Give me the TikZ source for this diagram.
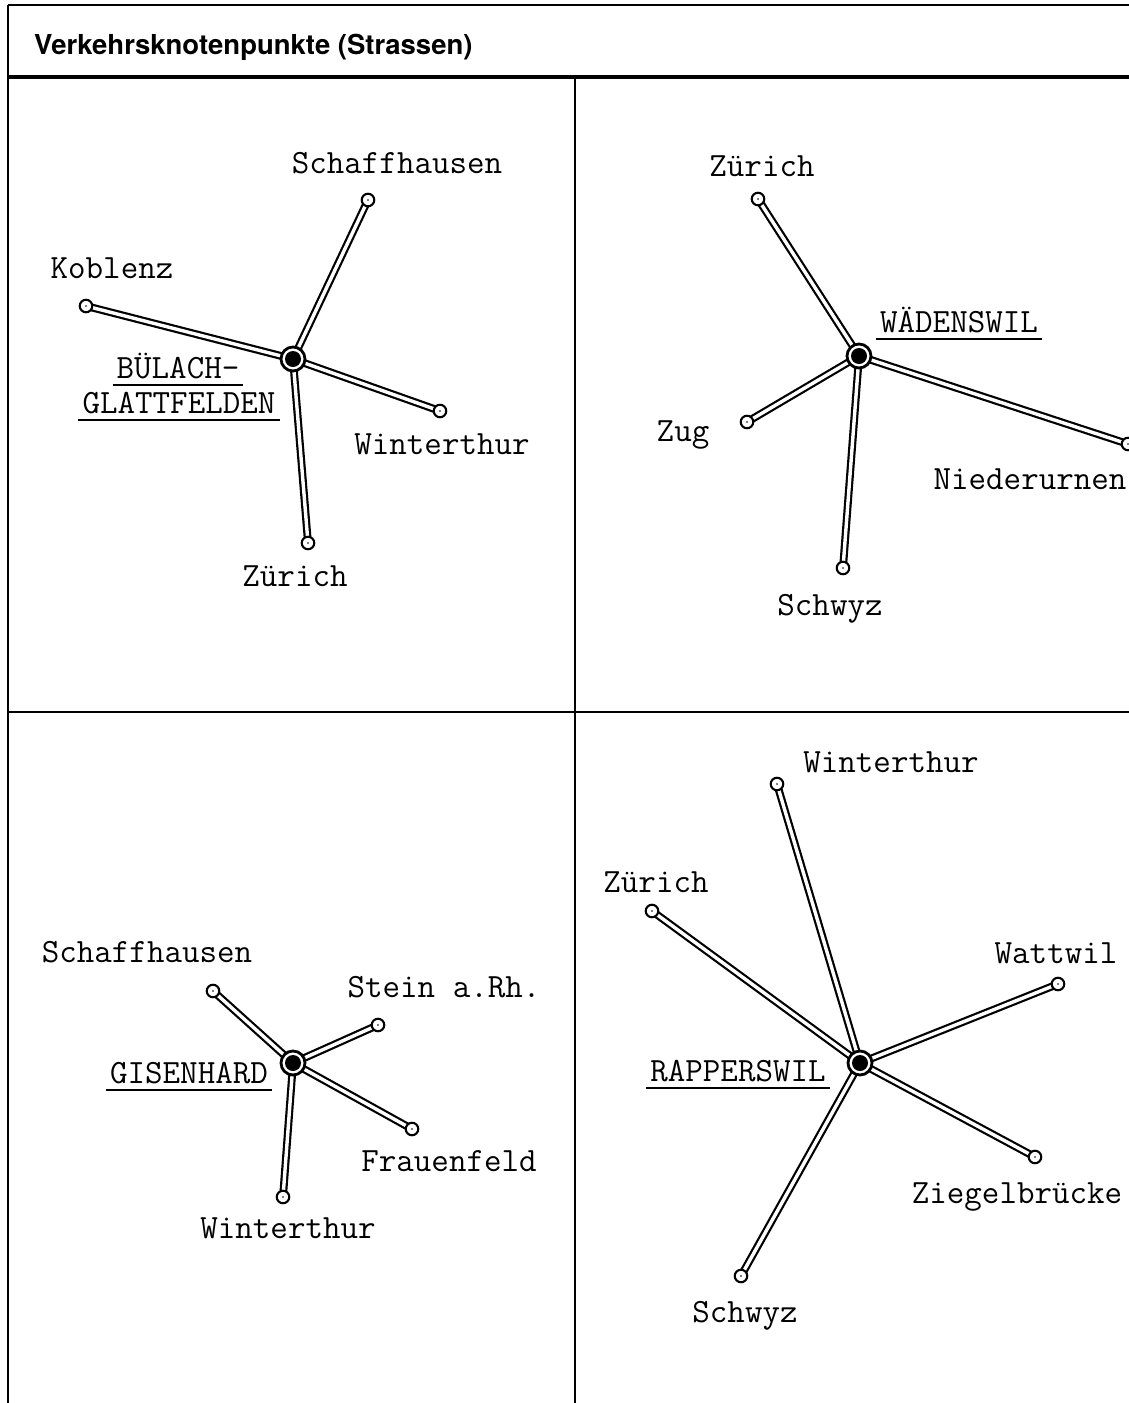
\documentclass[tikz,border=0pt]{standalone}
\usepackage{fontspec}
\newfontfamily\headfont{TeX Gyre Heros}
\usetikzlibrary{backgrounds}
\tikzset{
  road/.style={draw=black, line width=2.2pt, double=white, double distance=3.4pt},
  hub/.style={circle, draw, line width=2.8pt, fill=white, minimum size=24pt, inner sep=0pt,
    path picture={\fill[black] (path picture bounding box.center) circle (8pt);}},
  town/.style={circle, draw, line width=2.1pt, fill=white, minimum size=12.5pt, inner sep=0pt,
    path picture={\fill[black] (path picture bounding box.center) circle (0.8pt);}},
  place/.style={anchor=base, inner sep=0pt, font=\fontsize{34}{40}\selectfont\ttfamily},
  rule/.style={line width=1.8pt},
  border/.style={line width=2.2pt},
}
\newcommand{\underrule}[1]{\draw[rule] ([xshift=-4pt,yshift=-7pt]#1.base west) -- ([xshift=4pt,yshift=-7pt]#1.base east);}
\begin{document}
\begin{tikzpicture}[x=1pt, y=-1pt]
\useasboundingbox (0,0) rectangle (1129,1403);
\clip (0,0) rectangle (1129,1403);

% frame and panel dividers
\draw[border] (8,5) -- (1129,5);
\draw[line width=1.5pt] (8,5) -- (8,1403);
\draw[line width=3.2pt] (8,77) -- (1129,77);
\draw[border] (575,77) -- (575,1403);
\draw[border] (8,712) -- (1129,712);

\node[anchor=base west, inner sep=0pt, font=\fontsize{27.5}{32}\selectfont\headfont\bfseries]
  (title) at (34,54) {Verkehrsknotenpunkte (Strassen)};

% --- Bülach-Glattfelden
\node[hub]  (b)    at (293,359) {};
\node[town] (b-sh) at (368,200) {};
\node[town] (b-ko) at (86,306) {};
\node[town] (b-wi) at (440,411) {};
\node[town] (b-zh) at (308,543) {};
\node[place] (l-b-sh) at (397,173) {Schaffhausen};
\node[place] (l-b-ko) at (112,278) {Koblenz};
\node[place] (l-b-wi) at (442,454) {Winterthur};
\node[place] (l-b-zh) at (295,586) {Zürich};
\node[place] (n-b1) at (178,378) {BÜLACH-};
\node[place] (n-b2) at (179,413) {GLATTFELDEN};
\underrule{n-b1}
\underrule{n-b2}

% --- Wädenswil
\node[hub]  (w)    at (859,356) {};
\node[town] (w-zh) at (758,199) {};
\node[town] (w-zg) at (747,422) {};
\node[town] (w-ni) at (1128,444) {};
\node[town] (w-sz) at (843,568) {};
\node[place] (l-w-zh) at (762,176) {Zürich};
\node[place] (l-w-zg) at (683,441) {Zug};
\node[place] (l-w-ni) at (1030,489) {Niederurnen};
\node[place] (l-w-sz) at (830,615) {Schwyz};
\node[place] (n-w) at (959,332) {WÄDENSWIL};
\underrule{n-w}

% --- Gisenhard
\node[hub]  (g)    at (293,1063) {};
\node[town] (g-sh) at (213,991) {};
\node[town] (g-st) at (378,1025) {};
\node[town] (g-fr) at (412,1129) {};
\node[town] (g-wi) at (283,1197) {};
\node[place] (l-g-sh) at (147,962) {Schaffhausen};
\node[place] (l-g-st) at (444,997) {Stein a.Rh.};
\node[place] (l-g-fr) at (449,1171) {Frauenfeld};
\node[place] (l-g-wi) at (288,1238) {Winterthur};
\node[place] (n-g) at (189,1083) {GISENHARD};
\underrule{n-g}

% --- Rapperswil
\node[hub]  (r)    at (860,1063) {};
\node[town] (r-wi) at (777,784) {};
\node[town] (r-zh) at (652,911) {};
\node[town] (r-wa) at (1058,984) {};
\node[town] (r-zi) at (1035,1157) {};
\node[town] (r-sz) at (741,1276) {};
\node[place] (l-r-wi) at (891,772) {Winterthur};
\node[place] (l-r-zh) at (656,892) {Zürich};
\node[place] (l-r-wa) at (1056,963) {Wattwil};
\node[place] (l-r-zi) at (1017,1203) {Ziegelbrücke};
\node[place] (l-r-sz) at (745,1322) {Schwyz};
\node[place] (n-r) at (738,1081) {RAPPERSWIL};
\underrule{n-r}

% roads, drawn beneath the junction circles
\begin{pgfonlayer}{background}
  \foreach \e in {b-sh,b-ko,b-wi,b-zh} \draw[road] (b.center) -- (\e.center);
  \foreach \e in {w-zh,w-zg,w-ni,w-sz} \draw[road] (w.center) -- (\e.center);
  \foreach \e in {g-sh,g-st,g-fr,g-wi} \draw[road] (g.center) -- (\e.center);
  \foreach \e in {r-wi,r-zh,r-wa,r-zi,r-sz} \draw[road] (r.center) -- (\e.center);
\end{pgfonlayer}
\end{tikzpicture}
\end{document}
